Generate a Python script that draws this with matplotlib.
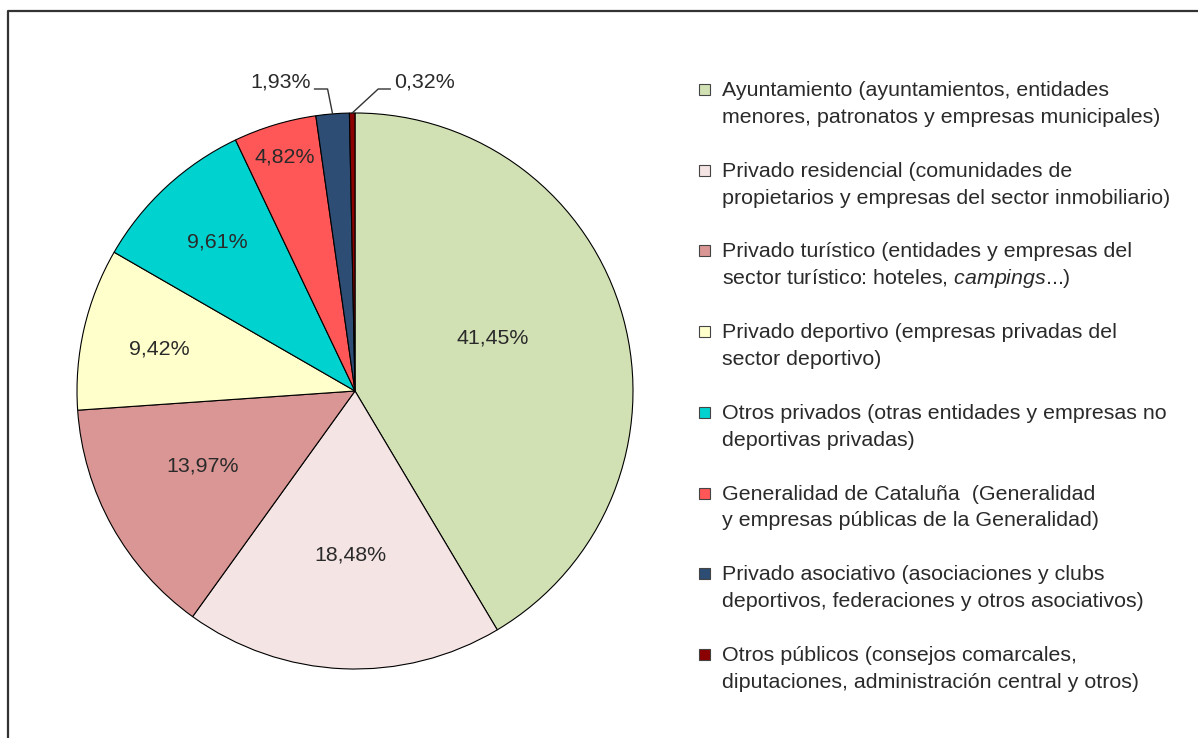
import matplotlib.pyplot as plt
import numpy as np
from matplotlib.patches import Rectangle

plt.rcParams['font.family'] = ['Liberation Sans', 'DejaVu Sans']
plt.rcParams['mathtext.fontset'] = 'custom'
plt.rcParams['mathtext.rm'] = 'Liberation Sans'
plt.rcParams['mathtext.it'] = 'Liberation Sans:italic'

# data (clockwise from the top)
shares = [41.45, 18.48, 13.97, 9.42, 9.61, 4.82, 1.93, 0.32]
pct_labels = ['41,45%', '18,48%', '13,97%', '9,42%', '9,61%', '4,82%', '1,93%', '0,32%']
colors = ['#D2E1B4', '#F5E4E4', '#D99694', '#FFFFCC', '#00D3CF', '#FF5757', '#2D4D74', '#8B0000']
legend_labels = [
    'Ayuntamiento (ayuntamientos, entidades\nmenores, patronatos y empresas municipales)',
    'Privado residencial (comunidades de\npropietarios y empresas del sector inmobiliario)',
    'Privado turístico (entidades y empresas del\nsector turístico: hoteles, $\\mathit{campings}$...)',
    'Privado deportivo (empresas privadas del\nsector deportivo)',
    'Otros privados (otras entidades y empresas no\ndeportivas privadas)',
    'Generalidad de Cataluña  (Generalidad\ny empresas públicas de la Generalidad)',
    'Privado asociativo (asociaciones y clubs\ndeportivos, federaciones y otros asociativos)',
    'Otros públicos (consejos comarcales,\ndiputaciones, administración central y otros)',
]

W, H = 1198, 738
fig = plt.figure(figsize=(W / 100, H / 100), dpi=100)
ax = fig.add_axes([0, 0, 1, 1])

cx, cy, R = 355, H - 391, 278
wedges, _ = ax.pie(shares, colors=colors, startangle=90, counterclock=False,
                   center=(cx, cy), radius=R,
                   wedgeprops=dict(edgecolor='black', linewidth=0.8))
ax.set_xlim(0, W)
ax.set_ylim(0, H)
ax.set_aspect('equal')
ax.axis('off')

txt = dict(fontsize=15.4, color='#2a2a2a')

# inside labels: (distance as fraction of radius, angle tweak in degrees)
inside_pos = [(0.53, 5.5), (0.59, 0.8), (0.61, -3), (0.72, 1), (0.73, 0), (0.88, 0)]
for w, lab, (d, da) in zip(wedges[:6], pct_labels[:6], inside_pos):
    a = np.deg2rad((w.theta1 + w.theta2) / 2 + da)
    ax.text(cx + d * R * np.cos(a), cy + d * R * np.sin(a), lab,
            ha='center', va='center', **txt)

# outside labels with leader lines
for w, lab, side in zip(wedges[6:], pct_labels[6:], [-1, 1]):
    a = np.deg2rad((w.theta1 + w.theta2) / 2)
    x0, y0 = cx + R * np.cos(a), cy + R * np.sin(a)
    if side < 0:
        xs = [x0, x0 - 5, x0 - 18]
    else:
        xs = [x0, x0 + 26, x0 + 38]
    ys = [y0, H - 89, H - 89]
    ax.plot(xs, ys, color='#333333', linewidth=1)
    ax.text(xs[-1] + side * 4, H - 82, lab, ha='right' if side < 0 else 'left',
            va='center', **txt)

# legend
for i, (lab, c) in enumerate(zip(legend_labels, colors)):
    base = 96 + 80.7 * i
    ax.add_patch(Rectangle((699, H - base + 1), 11, 11, facecolor=c,
                           edgecolor='#444444', linewidth=0.8))
    for k, line in enumerate(lab.split('\n')):
        ax.text(722, H - base - 27 * k, line, ha='left', va='baseline', **txt)

# frame
ax.plot([8, 8, W], [0, H - 11, H - 11], color='#333333', linewidth=1.6,
        solid_capstyle='butt', clip_on=False)

fig.savefig('out.png', dpi=100)
